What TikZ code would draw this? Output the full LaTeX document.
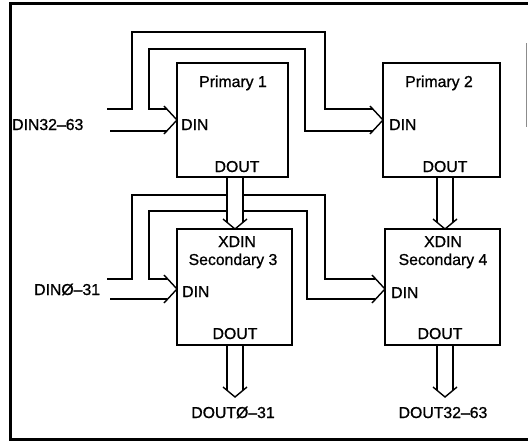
\documentclass[tikz,border=0pt]{standalone}
\usepackage{fontspec}
\setmainfont{Liberation Sans}
\newfontfamily\lblfont[FakeBold=0.9]{Liberation Sans}
\usetikzlibrary{calc}
\newcommand\harrowhead[1]{\draw[bus] ($(#1)+(-13,14)$) -- (#1) -- ($(#1)+(-13,-14)$);}
\newcommand\vbus[2]{%
  \coordinate (vl) at ($(#2)+(-8,0)$);
  \coordinate (vr) at ($(#2)+(8,0)$);
  \fill[white] ($(vl |- #1.south)+(0.7,-2)$) rectangle ($(vr)+(-0.7,6.7)$);
  \draw[bus] ($(vl |- #1.south)+(0,-1)$) -- ($(vl)+(0,6.7)$);
  \draw[bus] ($(vr |- #1.south)+(0,-1)$) -- ($(vr)+(0,6.7)$);
  \draw[bus] ($(#2)+(-12,10)$) -- (#2) -- ($(#2)+(12,10)$);
}
\begin{document}
\begin{tikzpicture}[x=1pt,y=1pt,
  blk/.style n args={2}{draw,line width=2.8pt,minimum width=#1,minimum height=#2,inner sep=0pt,outer sep=0pt},
  lbl/.style={font=\lblfont\fontsize{15.8}{19}\selectfont,inner sep=0pt},
  bus/.style={line width=1.4pt,line join=miter},
  frame/.style={line width=3pt}]
\useasboundingbox (0,0) rectangle (528,-442);
\draw[frame] (528,-3.5) -- (10,-3.5) -- (10,-439) -- (528,-439);
\draw[black!45,line width=1.5pt] (526.5,-43) -- (526.5,-127);

% blocks
\node[blk={111pt}{114pt}] (p1) at (232.5,-120) {};
\node[blk={117pt}{114pt}] (p2) at (441.5,-120) {};
\node[blk={115pt}{116pt}] (s3) at (234.5,-287) {};
\node[blk={115pt}{116pt}] (s4) at (442.5,-287) {};

% texts inside blocks
\node[lbl,anchor=base] (p1n) at (233,-87) {Primary 1};
\node[lbl,anchor=base west] (p1i) at (181,-130) {DIN};
\node[lbl,anchor=base] (p1o) at (237,-172) {DOUT};
\node[lbl,anchor=base] (p2n) at (439,-87) {Primary 2};
\node[lbl,anchor=base west] (p2i) at (389,-130) {DIN};
\node[lbl,anchor=base] (p2o) at (445,-172) {DOUT};
\node[lbl,anchor=base] (s3x) at (237,-247) {XDIN};
\node[lbl,anchor=base] (s3n) at (233,-265) {Secondary 3};
\node[lbl,anchor=base west] (s3i) at (182,-297) {DIN};
\node[lbl,anchor=base] (s3o) at (235,-339) {DOUT};
\node[lbl,anchor=base] (s4x) at (443,-247) {XDIN};
\node[lbl,anchor=base] (s4n) at (443,-265) {Secondary 4};
\node[lbl,anchor=base west] (s4i) at (391,-298) {DIN};
\node[lbl,anchor=base] (s4o) at (440,-339) {DOUT};

% outside labels
\node[lbl,anchor=base west] (inA) at (12,-130) {DIN32–63};
\node[lbl,anchor=base west] (inB) at (34,-295) {DINØ–31};
\node[lbl,anchor=base] (out3) at (233,-418) {DOUTØ–31};
\node[lbl,anchor=base] (out4) at (443,-418) {DOUT32–63};

% arrow tips
\coordinate (t1) at (p1.west);
\coordinate (t2) at (p2.west);
\coordinate (t3) at ([yshift=-2pt]s3.west);
\coordinate (t4) at ([yshift=-2pt]s4.west);
\coordinate (x3) at ([xshift=0.5pt]s3.north);
\coordinate (x4) at ([xshift=2.5pt]s4.north);
\coordinate (o3) at (235,-397);
\coordinate (o4) at (445,-397);

% bus A: DIN32-63 to Primary 1 and Primary 2
\draw[bus] (107,-109) -- (132,-109) -- (132,-32) -- (325,-32) -- (325,-109) -- ($(t2)+(-10.2,11)$);
\draw[bus] ($(t1)+(-10.2,11)$) -- (149,-109) -- (149,-49) -- (305,-49) -- (305,-131) -- ($(t2)+(-10.2,-11)$);
\draw[bus] (110,-131) -- ($(t1)+(-10.2,-11)$);
\harrowhead{t1}
\harrowhead{t2}

% bus B: DIN0-31 to Secondary 3 and Secondary 4
\draw[bus] (107,-279) -- (132,-279) -- (132,-195) -- (325,-195) -- (325,-279) -- ($(t4)+(-10,10)$);
\draw[bus] ($(t3)+(-10,10)$) -- (149,-279) -- (149,-211) -- (307,-211) -- (307,-299) -- ($(t4)+(-10,-10)$);
\draw[bus] (110,-299) -- ($(t3)+(-10,-10)$);
\harrowhead{t3}
\harrowhead{t4}

% vertical buses
\vbus{p1}{x3}
\vbus{p2}{x4}
\vbus{s3}{o3}
\vbus{s4}{o4}
\end{tikzpicture}
\end{document}
